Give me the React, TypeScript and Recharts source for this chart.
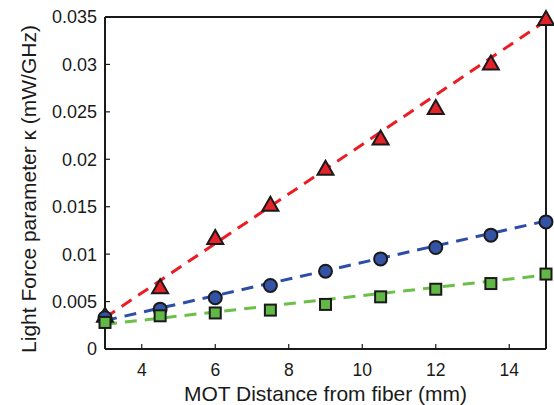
import React from 'react';
import {
  ComposedChart,
  Line,
  Scatter,
  XAxis,
  YAxis,
} from 'recharts';

// Measured points (distance in mm, kappa in mW/GHz)
const distances = [3, 4.5, 6, 7.5, 9, 10.5, 12, 13.5, 15];
const redValues = [0.0035, 0.0065, 0.0117, 0.0152, 0.019, 0.0222, 0.0254, 0.0301, 0.0348];
const blueValues = [0.0033, 0.0042, 0.0054, 0.0067, 0.0082, 0.0095, 0.0107, 0.012, 0.0134];
const greenValues = [0.0028, 0.0035, 0.0038, 0.0041, 0.0047, 0.0055, 0.0063, 0.0069, 0.0079];

// Linear fit endpoints
const fitX = [3, 15];
const redFit = [0.0033, 0.0346];
const blueFit = [0.003, 0.0135];
const greenFit = [0.0026, 0.0078];

const xTicks = [4, 6, 8, 10, 12, 14];
const yTicks = [0, 0.005, 0.01, 0.015, 0.02, 0.025, 0.03, 0.035];

const toPoints = (xs: number[], ys: number[]) => xs.map((x, i) => ({ x, y: ys[i] }));

const redData = toPoints(distances, redValues);
const blueData = toPoints(distances, blueValues);
const greenData = toPoints(distances, greenValues);

const FONT = '"Liberation Sans", Arial, Helvetica, sans-serif';
const INK = '#1a1a1a';
const X_MARGIN = 15;
const Y_MARGIN = 8;
const TICK_LEN = 5;

// bottom ticks: label below, small tick pointing into the plot
function XTick(props: any) {
  const { x, y, payload } = props;
  const axisY = y - X_MARGIN;
  return (
    <g>
      <line x1={x} x2={x} y1={axisY} y2={axisY - TICK_LEN} stroke={INK} strokeWidth={1.2} />
      <text x={x} y={y} dy="0.71em" textAnchor="middle" fontSize={17.5} fill={INK} fontFamily={FONT}>
        {payload.value}
      </text>
    </g>
  );
}

function YTick(props: any) {
  const { x, y, payload } = props;
  const axisX = x + Y_MARGIN;
  return (
    <g>
      <line x1={axisX} x2={axisX + TICK_LEN} y1={y} y2={y} stroke={INK} strokeWidth={1.2} />
      <text x={x} y={y} dy="0.355em" textAnchor="end" fontSize={18} fill={INK} fontFamily={FONT}>
        {payload.value}
      </text>
    </g>
  );
}

function Triangle(props: any) {
  const { cx, cy } = props;
  const s = 8;
  return (
    <path
      d={`M${cx},${cy - s} L${cx + s},${cy + s * 0.75} L${cx - s},${cy + s * 0.75} Z`}
      fill="#e3222a"
      stroke={INK}
      strokeWidth={2}
    />
  );
}

function Circle(props: any) {
  const { cx, cy } = props;
  return <circle cx={cx} cy={cy} r={6.5} fill="#3453a4" stroke={INK} strokeWidth={2} />;
}

function Square(props: any) {
  const { cx, cy } = props;
  return <rect x={cx - 5.5} y={cy - 5.5} width={11} height={11} fill="#62b846" stroke={INK} strokeWidth={2} />;
}

export default function App() {
  return (
    <div style={{ position: 'absolute', left: 0, top: 0, background: '#fff' }}>
      <ComposedChart width={554} height={405} margin={{ top: 17, right: 8, bottom: 0, left: 0 }}>
        <XAxis
          xAxisId="b"
          type="number"
          dataKey="x"
          domain={[3, 15]}
          ticks={xTicks}
          height={56}
          stroke={INK}
          strokeWidth={2}
          tickLine={false}
          tickSize={0}
          tickMargin={X_MARGIN}
          tick={<XTick />}
          label={{ value: 'MOT Distance from fiber (mm)', position: 'insideBottom', offset: 4, style: { fontSize: 21, fill: INK, fontFamily: FONT } }}
        />
        <XAxis
          xAxisId="t"
          orientation="top"
          type="number"
          dataKey="x"
          domain={[3, 15]}
          ticks={xTicks}
          height={1}
          mirror
          tick={false}
          tickSize={TICK_LEN}
          stroke={INK}
          strokeWidth={2}
        />
        <YAxis
          yAxisId="l"
          type="number"
          domain={[0, 0.035]}
          ticks={yTicks}
          width={105}
          stroke={INK}
          strokeWidth={2}
          tickLine={false}
          tickSize={0}
          tickMargin={Y_MARGIN}
          tick={<YTick />}
          label={{ value: 'Light Force parameter κ (mW/GHz)', angle: -90, position: 'insideLeft', offset: 29, dy: 6, style: { textAnchor: 'middle', fontSize: 21, fill: INK, fontFamily: FONT } }}
        />
        <YAxis
          yAxisId="r"
          orientation="right"
          type="number"
          domain={[0, 0.035]}
          ticks={yTicks}
          width={1}
          mirror
          tick={false}
          tickSize={TICK_LEN}
          stroke={INK}
          strokeWidth={2}
        />

        <Line xAxisId="b" yAxisId="l" data={toPoints(fitX, redFit)} dataKey="y" stroke="#ec1c24" strokeWidth={3} strokeDasharray="12 8" dot={false} isAnimationActive={false} />
        <Line xAxisId="b" yAxisId="l" data={toPoints(fitX, blueFit)} dataKey="y" stroke="#2c4ea6" strokeWidth={3} strokeDasharray="12 8" dot={false} isAnimationActive={false} />
        <Line xAxisId="b" yAxisId="l" data={toPoints(fitX, greenFit)} dataKey="y" stroke="#6cc04a" strokeWidth={3} strokeDasharray="12 8" dot={false} isAnimationActive={false} />

        <Scatter xAxisId="b" yAxisId="l" data={redData} dataKey="y" shape={<Triangle />} isAnimationActive={false} />
        <Scatter xAxisId="b" yAxisId="l" data={blueData} dataKey="y" shape={<Circle />} isAnimationActive={false} />
        <Scatter xAxisId="b" yAxisId="l" data={greenData} dataKey="y" shape={<Square />} isAnimationActive={false} />
      </ComposedChart>
    </div>
  );
}
